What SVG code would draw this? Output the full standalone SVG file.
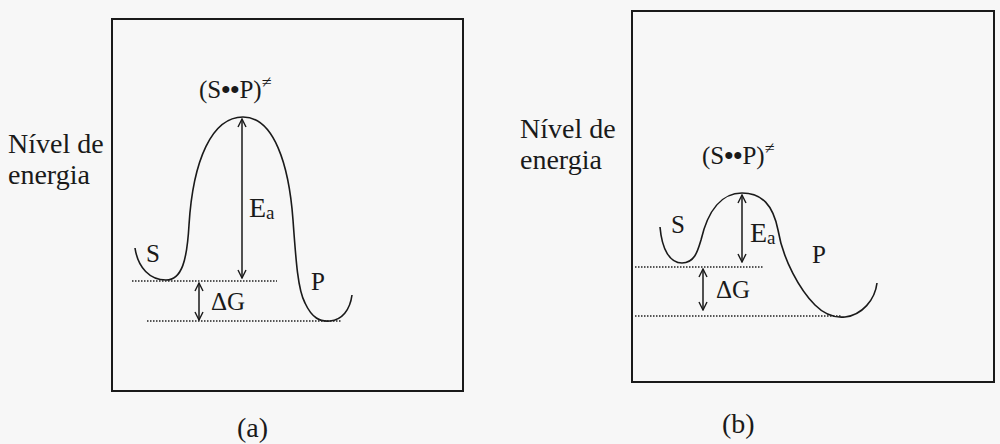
<svg xmlns="http://www.w3.org/2000/svg" width="1000" height="444" viewBox="0 0 1000 444">
<style>
.bg{fill:#f7f7f7}
.box{fill:none;stroke:#1a1a1a;stroke-width:2}
.curve{fill:none;stroke:#1a1a1a;stroke-width:1.6}
.dot{fill:none;stroke:#222;stroke-width:1.5;stroke-dasharray:1.5 1.5}
.arr{fill:none;stroke:#1a1a1a;stroke-width:1.5;marker-start:url(#v);marker-end:url(#v)}
text{font-family:'Liberation Serif','DejaVu Serif',serif;fill:#1a1a1a}
.lbl{font-size:25px}
.ts{font-size:25px}
.axis{font-size:28px}
</style>
<defs>
<marker id="v" viewBox="0 0 10 10" refX="9" refY="5" markerWidth="10" markerHeight="10" markerUnits="userSpaceOnUse" orient="auto-start-reverse">
<path d="M1,1 L9,5 L1,9" fill="none" stroke="#1a1a1a" stroke-width="1.4"/>
</marker>
</defs>
<rect class="bg" x="0" y="0" width="1000" height="444"/>

<g id="diagram-a" font-family="Liberation Serif, DejaVu Serif, serif">
<rect class="box" x="112" y="19" width="351" height="372"/>
<text class="axis" x="8" y="153">Nível de</text>
<text class="axis" x="8" y="184">energia</text>
<g id="curve-a"><path class="curve" d="M135,248 C138,268 150,280 166,280 C182,280 187,260 189,225 C193,160 212,117 243,117 C274,117 289,165 293,220 C296,262 298,290 305,303 C312,318 320,322 330,321 C342,320 350,310 352,295"/></g>
<text class="ts" x="199" y="98">(S<tspan font-size="26" font-weight="bold">••</tspan>P)<tspan font-size="18" dy="-10">≠</tspan></text>
<text class="lbl" x="146" y="262">S</text>
<text class="lbl" x="311" y="290">P</text>
<text class="axis" x="249" y="217">E<tspan font-size="19" dy="2">a</tspan></text>
<text class="lbl" x="211" y="310">ΔG</text>
<text class="axis" x="237" y="437">(a)</text>
</g>

<g id="diagram-b" font-family="Liberation Serif, DejaVu Serif, serif">
<rect class="box" x="632" y="11" width="362" height="371"/>
<text class="axis" x="520" y="138">Nível de</text>
<text class="axis" x="520" y="169">energia</text>
<g id="curve-b"><path class="curve" d="M660,227 C662,250 670,263 682,263 C695,263 698,250 701,240 C708,210 722,193 742,193 C762,193 773,205 778,230 C783,260 800,290 815,305 C825,315 835,318 845,317 C862,315 875,300 877,283"/></g>
<text class="ts" x="702" y="164">(S<tspan font-size="26" font-weight="bold">••</tspan>P)<tspan font-size="18" dy="-10">≠</tspan></text>
<text class="lbl" x="671" y="233">S</text>
<text class="lbl" x="812" y="263">P</text>
<text class="axis" x="750" y="242">E<tspan font-size="19" dy="2">a</tspan></text>
<text class="lbl" x="716" y="298">ΔG</text>
<text class="axis" x="722" y="433">(b)</text>
</g>

<g id="connectors">
<line class="dot" x1="132" y1="281" x2="277" y2="281"/>
<line class="dot" x1="147" y1="321" x2="342" y2="321"/>
<line class="arr" x1="242" y1="119" x2="242" y2="278"/>
<line class="arr" x1="199" y1="283" x2="199" y2="320"/>
<line class="dot" x1="635" y1="267" x2="763" y2="267"/>
<line class="dot" x1="635" y1="316" x2="842" y2="316"/>
<line class="arr" x1="742" y1="195" x2="742" y2="262"/>
<line class="arr" x1="703" y1="269" x2="703" y2="310"/>
</g>
</svg>
